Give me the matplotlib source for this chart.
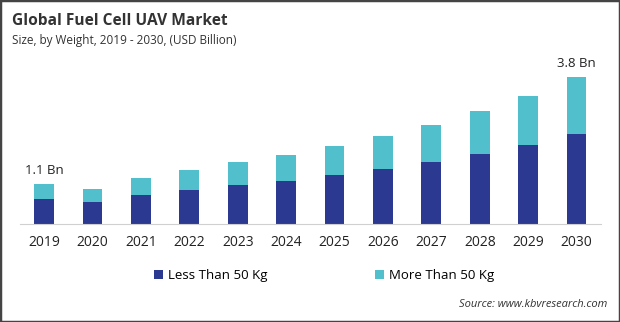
import numpy as np
import matplotlib.pyplot as plt
from matplotlib.patches import Rectangle

plt.rcParams['font.family'] = ['Open Sans', 'DejaVu Sans']

years = ['2019', '2020', '2021', '2022', '2023', '2024',
         '2025', '2026', '2027', '2028', '2029', '2030']
less_50 = [0.65, 0.57, 0.75, 0.88, 1.02, 1.12, 1.27, 1.43, 1.61, 1.82, 2.05, 2.34]
more_50 = [0.39, 0.34, 0.44, 0.52, 0.59, 0.68, 0.75, 0.86, 0.96, 1.12, 1.27, 1.48]
labels = {0: '1.1 Bn', 11: '3.8 Bn'}

dark = '#2b3990'
light = '#52c0cc'

fig = plt.figure(figsize=(6.2, 3.22), dpi=100)
ax = fig.add_axes([0.032, 0.3043, 0.937, 0.54])

x = np.arange(len(years))
w = 0.41
ax.bar(x, less_50, w, color=dark, label='Less Than 50 Kg')
ax.bar(x, more_50, w, bottom=less_50, color=light, label='More Than 50 Kg')

for i, txt in labels.items():
    ax.annotate(txt, (x[i], less_50[i] + more_50[i]), xytext=(0, 5),
                textcoords='offset points', ha='center', va='bottom',
                fontsize=9.5, color='#222222')

ax.set_xlim(-0.5, 11.5)
ax.set_ylim(0, 4.52)
ax.set_xticks(x)
ax.set_xticklabels(years, fontsize=10, color='#222222')
ax.tick_params(axis='x', length=0, pad=8)
ax.set_yticks([])
for s in ['top', 'right', 'left']:
    ax.spines[s].set_visible(False)
ax.spines['bottom'].set_color('#d0d0d0')

fig.text(0.019, 0.935, 'Global Fuel Cell UAV Market', fontsize=11.2, fontweight='bold',
         color='#333333', va='center')
fig.text(0.019, 0.875, 'Size, by Weight, 2019 - 2030, (USD Billion)', fontsize=8.5,
         color='#333333', va='center')

fig.legend(loc='center', bbox_to_anchor=(0.523, 0.145), ncol=2, frameon=False,
           fontsize=9.5, handlelength=0.7, handleheight=0.7, handletextpad=0.4,
           columnspacing=8.1)

fig.text(0.98, 0.055, 'Source: www.kbvresearch.com', fontsize=8, style='italic',
         color='#333333', ha='right', va='center')

fig.add_artist(Rectangle((0, 0), 1, 1, transform=fig.transFigure, fill=False,
                         edgecolor='#444444', linewidth=2.5))

fig.savefig('out.png', dpi=100)
